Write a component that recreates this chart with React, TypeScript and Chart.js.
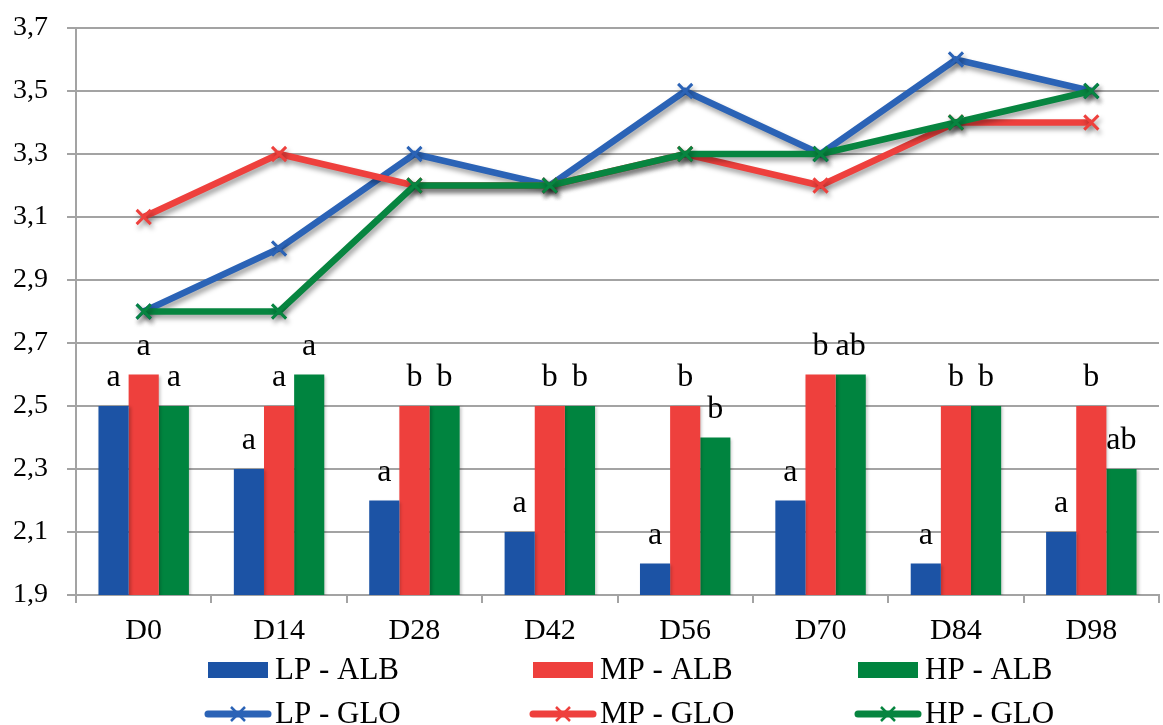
import React, { useEffect, useRef } from 'react';
import { Chart, registerables } from 'chart.js';

Chart.register(...registerables);

const categories = ['D0', 'D14', 'D28', 'D42', 'D56', 'D70', 'D84', 'D98'];

const lpAlb = [2.5, 2.3, 2.2, 2.1, 2.0, 2.2, 2.0, 2.1];
const mpAlb = [2.6, 2.5, 2.5, 2.5, 2.5, 2.6, 2.5, 2.5];
const hpAlb = [2.5, 2.6, 2.5, 2.5, 2.4, 2.6, 2.5, 2.3];

const lpGlo = [2.8, 3.0, 3.3, 3.2, 3.5, 3.3, 3.6, 3.5];
const mpGlo = [3.1, 3.3, 3.2, 3.2, 3.3, 3.2, 3.4, 3.4];
const hpGlo = [2.8, 2.8, 3.2, 3.2, 3.3, 3.3, 3.4, 3.5];

const lpLetters = ['a', 'a', 'a', 'a', 'a', 'a', 'a', 'a'];
const mpLetters = ['a', 'a', 'b', 'b', 'b', 'b', 'b', 'b'];
const hpLetters = ['a', 'a', 'b', 'b', 'b', 'ab', 'b', 'ab'];

const yMin = 1.9;
const yMax = 3.7;
const yStep = 0.2;

const BLUE_BAR = '#1C53A5';
const RED_BAR = '#EE403D';
const GREEN_BAR = '#00843F';
const BLUE_LINE = '#2B63B6';
const RED_LINE = '#EE403D';
const GREEN_LINE = '#078540';
const GRID = '#A3A3A3';
const SERIF = "'Liberation Serif', 'Times New Roman', serif";

const shadowPlugin = {
  id: 'shadowPlugin',
  beforeDatasetDraw(chart: any, args: any) {
    const ctx = chart.ctx;
    ctx.save();
    const isLine = args.meta.type === 'line';
    ctx.shadowColor = isLine ? 'rgba(0,0,0,0.35)' : 'rgba(0,0,0,0.22)';
    ctx.shadowBlur = isLine ? 5 : 3;
    ctx.shadowOffsetX = 2;
    ctx.shadowOffsetY = isLine ? 4 : 1;
  },
  afterDatasetDraw(chart: any) {
    chart.ctx.restore();
  },
};

const lettersPlugin = {
  id: 'lettersPlugin',
  afterDatasetsDraw(chart: any) {
    const ctx = chart.ctx;
    const sets = [lpLetters, mpLetters, hpLetters];
    ctx.save();
    ctx.font = `32px ${SERIF}`;
    ctx.fillStyle = '#000';
    ctx.textAlign = 'center';
    ctx.textBaseline = 'alphabetic';
    sets.forEach((letters, di) => {
      const meta = chart.getDatasetMeta(di);
      meta.data.forEach((el: any, i: number) => {
        ctx.fillText(letters[i], el.x, el.y - 20);
      });
    });
    ctx.restore();
  },
};

const legendPlugin = {
  id: 'customLegend',
  afterDraw(chart: any) {
    const ctx = chart.ctx;
    const ds = chart.data.datasets;
    const colX = [208, 533, 858];
    const rowY = [670, 714];
    ctx.save();
    ctx.font = `31px ${SERIF}`;
    ctx.fillStyle = '#000';
    ctx.textAlign = 'left';
    ctx.textBaseline = 'middle';
    for (let k = 0; k < 6; k++) {
      const d = ds[k];
      const row = k < 3 ? 0 : 1;
      const x = colX[k % 3];
      const y = rowY[row];
      if (row === 0) {
        ctx.fillStyle = d.backgroundColor;
        ctx.fillRect(x, y - 8, 60, 16);
      } else {
        ctx.strokeStyle = d.borderColor;
        ctx.lineWidth = 7;
        ctx.lineCap = 'round';
        ctx.beginPath();
        ctx.moveTo(x, y);
        ctx.lineTo(x + 60, y);
        ctx.stroke();
        ctx.lineWidth = 2.5;
        ctx.lineCap = 'butt';
        const cx = x + 30;
        const r = 7;
        ctx.beginPath();
        ctx.moveTo(cx - r, y - r);
        ctx.lineTo(cx + r, y + r);
        ctx.moveTo(cx + r, y - r);
        ctx.lineTo(cx - r, y + r);
        ctx.stroke();
      }
      ctx.fillStyle = '#000';
      ctx.fillText(d.label, x + 67, y + 1);
    }
    ctx.restore();
  },
};

export default function App() {
  const canvasRef = useRef<HTMLCanvasElement | null>(null);

  useEffect(() => {
    const canvas = canvasRef.current;
    if (!canvas) return;
    const lineDs = (label: string, data: number[], color: string, order: number) => ({
      type: 'line' as const,
      label,
      data,
      borderColor: color,
      backgroundColor: color,
      borderWidth: 6.5,
      pointStyle: 'crossRot',
      pointRadius: 10,
      pointBorderWidth: 3,
      pointBorderColor: color,
      pointBackgroundColor: color,
      tension: 0,
      fill: false,
      order,
    });
    const barDs = (label: string, data: number[], color: string) => ({
      type: 'bar' as const,
      label,
      data,
      backgroundColor: color,
      borderWidth: 0,
      categoryPercentage: 0.668,
      barPercentage: 1,
      order: 10,
    });
    const chart = new Chart(canvas, {
      type: 'bar',
      data: {
        labels: categories,
        datasets: [
          barDs('LP - ALB', lpAlb, BLUE_BAR),
          barDs('MP - ALB', mpAlb, RED_BAR),
          barDs('HP - ALB', hpAlb, GREEN_BAR),
          lineDs('LP - GLO', lpGlo, BLUE_LINE, 3),
          lineDs('MP - GLO', mpGlo, RED_LINE, 2),
          lineDs('HP - GLO', hpGlo, GREEN_LINE, 1),
        ] as any,
      },
      options: {
        responsive: false,
        animation: false,
        layout: { padding: { top: 28, left: 0, right: 0, bottom: 0 } },
        plugins: {
          legend: { display: false },
          tooltip: { enabled: false },
          title: { display: false },
        },
        scales: {
          x: {
            offset: true,
            grid: {
              display: true,
              offset: true,
              drawOnChartArea: false,
              drawTicks: true,
              tickLength: 8,
              color: GRID,
              lineWidth: 2,
            },
            border: { display: true, color: GRID, width: 2 },
            ticks: {
              color: '#000',
              font: { family: SERIF, size: 30 },
              padding: 10,
              maxRotation: 0,
            },
            afterFit(scale: any) {
              scale.height = 130;
              scale.paddingLeft = 0;
              scale.paddingRight = 0;
            },
          },
          y: {
            min: yMin,
            max: yMax,
            grid: {
              color: GRID,
              lineWidth: 2,
              drawTicks: true,
              tickLength: 9,
            },
            border: { display: true, color: GRID, width: 2 },
            ticks: {
              stepSize: yStep,
              color: '#000',
              font: { family: SERIF, size: 28 },
              padding: 19,
              callback: (v: any) => Number(v).toFixed(1).replace('.', ','),
            },
            afterFit(scale: any) {
              scale.width = 76;
              scale.paddingTop = 0;
              scale.paddingBottom = 0;
            },
          },
        },
      },
      plugins: [shadowPlugin, lettersPlugin, legendPlugin],
    });
    return () => chart.destroy();
  }, []);

  return (
    <div
      style={{
        position: 'fixed',
        left: 0,
        top: 0,
        width: 1163,
        height: 725,
        overflow: 'hidden',
        background: '#fff',
      }}
    >
      <canvas
        ref={canvasRef}
        width={1172}
        height={725}
        style={{ display: 'block', width: 1172, height: 725 }}
      />
    </div>
  );
}
